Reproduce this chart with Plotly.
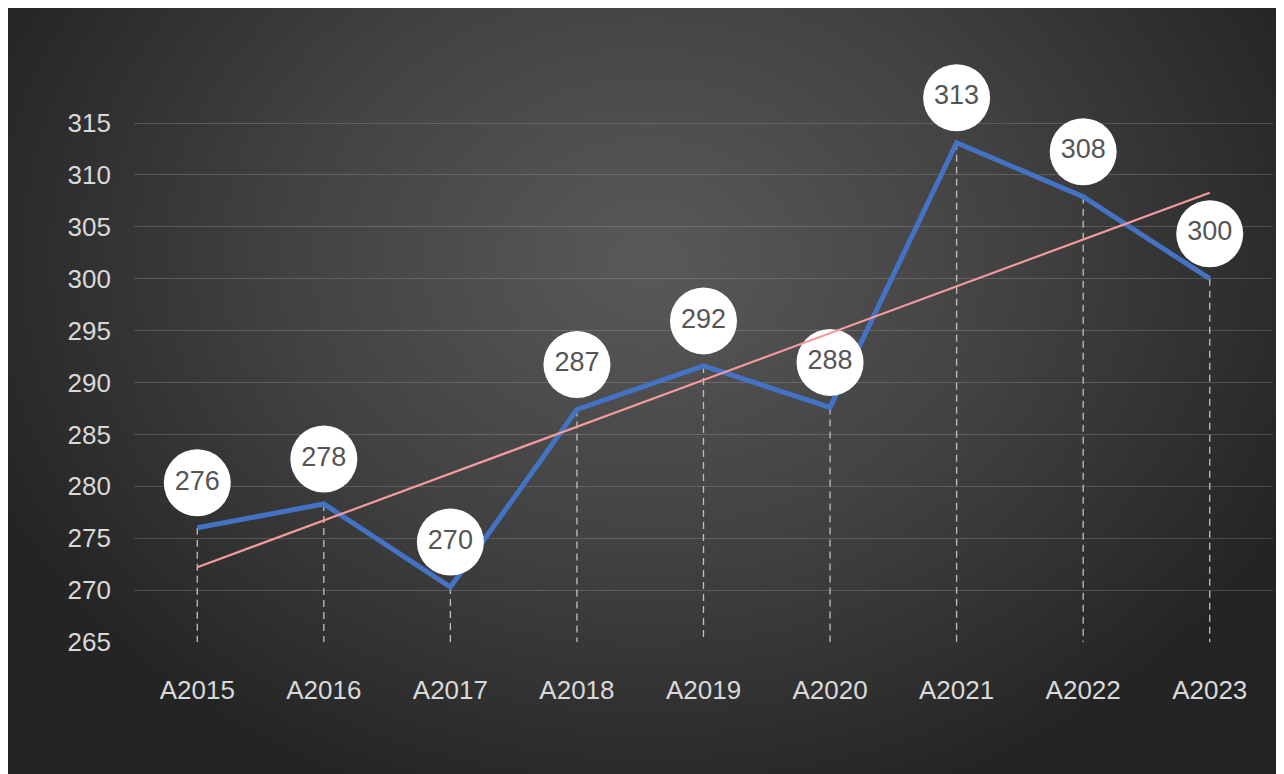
import base64
import numpy as np
import plotly.graph_objects as go

# ---- data ----
categories = ["A2015", "A2016", "A2017", "A2018", "A2019", "A2020", "A2021", "A2022", "A2023"]
values = [276.0, 278.3, 270.3, 287.4, 291.6, 287.6, 313.1, 307.9, 300.0]
y_ticks = [265, 270, 275, 280, 285, 290, 295, 300, 305, 310, 315]

# ---- layout geometry (page body adds an 8px offset) ----
W, H = 1276, 766
ML, MR, MT, MB = 126, 11, 22, 132
plot_w = W - ML - MR
plot_h = H - MT - MB
y_min = y_ticks[0]
px_per_unit = 519 / (y_ticks[-1] - y_ticks[0])   # 50 units span 519 px
y_top = y_min + plot_h / px_per_unit
label_offset = 45 / px_per_unit

FONT = "Liberation Sans Narrow, Arial Narrow, Liberation Sans, Arial, sans-serif"
FSIZE = 26

# trend line (least squares)
idx = np.arange(len(values))
slope, intercept = np.polyfit(idx, values, 1)
trend = list(slope * idx + intercept)

# drop lines
drop_x, drop_y = [], []
for c, v in zip(categories, values):
    drop_x += [c, c, None]
    drop_y += [v, y_min, None]

fig = go.Figure()
fig.add_trace(go.Scatter(x=drop_x, y=drop_y, mode="lines",
                         line=dict(color="#c0c0c0", width=1.3, dash="7px,5px"),
                         hoverinfo="skip", showlegend=False))
fig.add_trace(go.Scatter(x=categories, y=values, mode="lines",
                         line=dict(color="#4472C4", width=5),
                         showlegend=False))
fig.add_trace(go.Scatter(x=categories, y=[v + label_offset for v in values],
                         mode="markers+text",
                         text=[f"{round(v)}" for v in values],
                         textposition="middle center",
                         textfont=dict(family=FONT, size=27, color="#555555"),
                         marker=dict(size=67, color="white", line=dict(width=0)),
                         cliponaxis=False, hoverinfo="skip", showlegend=False))
fig.add_trace(go.Scatter(x=categories, y=trend, mode="lines",
                         line=dict(color="#F59A9E", width=2.2),
                         hoverinfo="skip", showlegend=False))

# background: radial gradient
svg = f'''<svg xmlns="http://www.w3.org/2000/svg" width="{W}" height="{H}" viewBox="0 0 {W} {H}" preserveAspectRatio="none">
<defs><radialGradient id="g" gradientUnits="userSpaceOnUse" cx="640" cy="250" r="720"
gradientTransform="translate(640 250) scale(1 0.8) translate(-640 -250)">
<stop offset="0" stop-color="#595959"/><stop offset="0.5" stop-color="#424242"/><stop offset="1" stop-color="#242424"/></radialGradient></defs>
<rect x="0" y="0" width="{W}" height="{H}" fill="url(#g)"/>
</svg>'''
src = "data:image/svg+xml;base64," + base64.b64encode(svg.encode()).decode()

fig.update_layout(
    width=W, height=H,
    margin=dict(l=ML, r=MR, t=MT, b=MB),
    paper_bgcolor="#2a2a2a",
    plot_bgcolor="rgba(0,0,0,0)",
    images=[dict(source=src, xref="paper", yref="paper",
                 x=-ML / plot_w, y=1 + MT / plot_h,
                 sizex=W / plot_w, sizey=H / plot_h,
                 xanchor="left", yanchor="top", sizing="stretch", layer="below")],
    xaxis=dict(type="category", range=[-0.5, len(categories) - 0.5],
               showgrid=False, zeroline=False, showline=False,
               tickfont=dict(family=FONT, size=FSIZE, color="#d9d9d9"),
               ticklabelstandoff=30),
    yaxis=dict(range=[y_min, y_top], tickvals=y_ticks,
               showgrid=True, gridcolor="rgba(255,255,255,0.16)", gridwidth=1,
               zeroline=False, showline=False,
               tickfont=dict(family=FONT, size=FSIZE, color="#d9d9d9"),
               ticklabelstandoff=22),
    font=dict(family=FONT),
)

fig.write_html("out.html")
